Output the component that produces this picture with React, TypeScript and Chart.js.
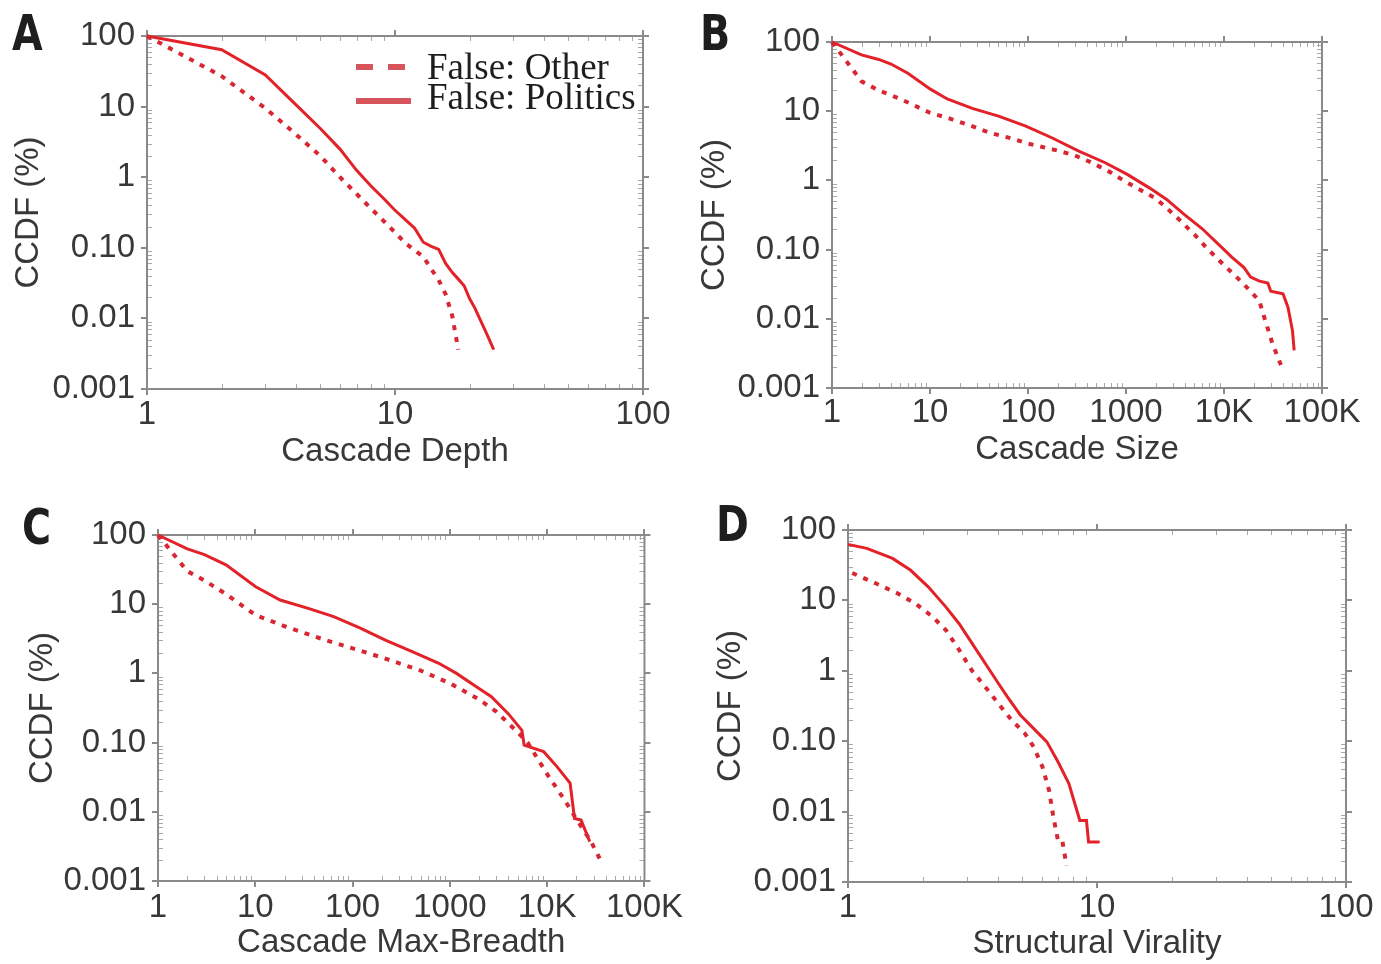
import React, { useEffect, useRef } from "react";
import { Chart, registerables } from "chart.js";

Chart.register(...registerables);

// ---------- tick labels ----------
const yTickValues = [0.001, 0.01, 0.1, 1, 10, 100];
const yTickLabels = ["0.001", "0.01", "0.10", "1", "10", "100"];
const xTickValuesShort = [1, 10, 100];
const xTickLabelsShort = ["1", "10", "100"];
const xTickValuesLong = [1, 10, 100, 1000, 10000, 100000];
const xTickLabelsLong = ["1", "10", "100", "1000", "10K", "100K"];
const seriesLabels = ["False: Other", "False: Politics"];
const yAxisTitle = "CCDF (%)";

// ---------- A: Cascade Depth ----------
const depthOtherX = [1, 2, 3, 4, 5, 6, 7, 8, 9, 10, 11, 12, 13, 14, 15, 16, 17, 18];
const depthOtherY = [100, 27, 9.5, 4, 2, 1, 0.58, 0.36, 0.24, 0.165, 0.117, 0.092, 0.075, 0.05, 0.035, 0.022, 0.011, 0.0036];
const depthPoliticsX = [1, 2, 3, 4, 5, 6, 7, 8, 9, 10, 11, 12, 13, 14, 15, 16, 17, 18, 19, 20, 21, 22, 23, 24, 25];
const depthPoliticsY = [100, 64, 28, 10.5, 4.9, 2.5, 1.25, 0.75, 0.5, 0.34, 0.25, 0.19, 0.12, 0.105, 0.095, 0.06, 0.045, 0.036, 0.029, 0.019, 0.014, 0.0098, 0.007, 0.005, 0.0036];

// ---------- B: Cascade Size ----------
const sizeOtherX = [1, 2, 3, 5, 7, 10, 16, 25, 40, 70, 100, 200, 300, 450, 700, 1000, 2000, 2600, 3600, 5000, 6600, 9000, 13700, 18700, 23000, 25500, 31000, 40000];
const sizeOtherY = [100, 27, 20, 15, 12, 9.5, 7.8, 6.3, 4.9, 4.0, 3.4, 2.7, 2.3, 1.8, 1.3, 0.95, 0.55, 0.4, 0.26, 0.165, 0.107, 0.069, 0.039, 0.025, 0.018, 0.011, 0.0045, 0.0018];
const sizePoliticsX = [1, 2, 3, 4, 6, 10, 15, 27, 50, 95, 177, 330, 614, 1030, 1730, 2600, 3950, 6000, 10000, 12000, 16000, 18700, 23000, 28000, 30000, 40000, 45000, 50000, 52000];
const sizePoliticsY = [100, 65, 56, 48, 35, 21, 15, 11, 8.5, 6.1, 4.1, 2.65, 1.8, 1.22, 0.78, 0.53, 0.32, 0.2, 0.1, 0.078, 0.055, 0.04, 0.035, 0.033, 0.025, 0.023, 0.0146, 0.0067, 0.0035];

// ---------- C: Cascade Max-Breadth ----------
const breadthOtherX = [1, 2, 3, 5, 10, 20, 50, 100, 200, 500, 1000, 2000, 3000, 5000, 6300, 10000, 15000, 20000, 28000, 36000];
const breadthOtherY = [100, 30, 22, 14, 7, 4.8, 3.1, 2.3, 1.7, 1.1, 0.72, 0.42, 0.28, 0.14, 0.1, 0.035, 0.015, 0.0078, 0.0038, 0.0019];
const breadthPoliticsX = [1, 2, 3, 5, 10, 18, 35, 64, 120, 220, 410, 770, 1170, 1760, 2670, 4000, 5500, 5800, 9200, 12600, 17200, 19100, 22300, 27400];
const breadthPoliticsY = [100, 63, 52, 37, 18, 11.5, 8.7, 6.6, 4.5, 3.0, 2.06, 1.4, 1.0, 0.68, 0.46, 0.26, 0.15, 0.092, 0.074, 0.045, 0.026, 0.008, 0.0076, 0.0037];

// ---------- D: Structural Virality ----------
const viralityOtherX = [1.04, 1.29, 1.58, 1.86, 2.18, 2.47, 2.79, 3.15, 3.56, 4.02, 4.54, 5.13, 5.57, 6.04, 6.42, 6.68, 6.97, 7.25, 7.55];
const viralityOtherY = [24.5, 17.5, 12.6, 9.1, 5.9, 3.8, 2.0, 1.0, 0.59, 0.34, 0.2, 0.129, 0.083, 0.043, 0.02, 0.0084, 0.0039, 0.0039, 0.0017];
const viralityPoliticsX = [1, 1.19, 1.51, 1.78, 2.1, 2.47, 2.79, 3.15, 3.56, 4.02, 4.36, 4.93, 5.57, 6.29, 6.97, 7.71, 8.53, 9.07, 9.25, 10.25];
const viralityPoliticsY = [62.5, 54.8, 39.5, 27, 15.6, 8.1, 4.7, 2.45, 1.27, 0.66, 0.43, 0.234, 0.151, 0.098, 0.051, 0.025, 0.0075, 0.0075, 0.0037, 0.0037];

// ---------- styles ----------
const SOLID_COLOR = "rgb(226,34,40)";
const DOTTED_COLOR = "rgb(216,38,50)";
const LEGEND_COLOR = "rgb(216,84,92)";
const TEXT_COLOR = "#383838";
const AXIS_COLOR = "#8a8a8a";
const MINOR_COLOR = "#a8a8a8";
const SANS = "'Liberation Sans', Arial, Helvetica, sans-serif";
const SERIF = "'Liberation Serif', 'Times New Roman', serif";

type PanelCfg = {
  letter: string;
  left: number;
  top: number;
  width: number;
  height: number;
  plotLeft: number;
  plotTop: number;
  plotRight: number;
  plotBottom: number;
  letterLeft: number;
  letterTop: number;
  xTitle: string;
  xTickValues: number[];
  xTickLabels: string[];
  otherX: number[];
  otherY: number[];
  politicsX: number[];
  politicsY: number[];
  yTitlePad: number;
  xTitlePad: number;
  xTickPad: number;
  legend: boolean;
};

const panels: PanelCfg[] = [
  {
    letter: "A", left: 0, top: 0, width: 690, height: 482,
    plotLeft: 147, plotTop: 36, plotRight: 643, plotBottom: 389,
    letterLeft: 12, letterTop: 8,
    xTitle: "Cascade Depth", xTickValues: xTickValuesShort, xTickLabels: xTickLabelsShort,
    otherX: depthOtherX, otherY: depthOtherY, politicsX: depthPoliticsX, politicsY: depthPoliticsY,
    yTitlePad: 9, xTitlePad: 10, xTickPad: 6, legend: true,
  },
  {
    letter: "B", left: 690, top: 0, width: 691, height: 482,
    plotLeft: 142, plotTop: 42, plotRight: 632, plotBottom: 388,
    letterLeft: 10, letterTop: 8,
    xTitle: "Cascade Size", xTickValues: xTickValuesLong, xTickLabels: xTickLabelsLong,
    otherX: sizeOtherX, otherY: sizeOtherY, politicsX: sizePoliticsX, politicsY: sizePoliticsY,
    yTitlePad: 5, xTitlePad: 12, xTickPad: 5, legend: false,
  },
  {
    letter: "C", left: 0, top: 482, width: 690, height: 482,
    plotLeft: 158, plotTop: 53, plotRight: 647, plotBottom: 399,
    letterLeft: 22, letterTop: 20,
    xTitle: "Cascade Max-Breadth", xTickValues: xTickValuesLong, xTickLabels: xTickLabelsLong,
    otherX: breadthOtherX, otherY: breadthOtherY, politicsX: breadthPoliticsX, politicsY: breadthPoliticsY,
    yTitlePad: 23, xTitlePad: 1, xTickPad: 7, legend: false,
  },
  {
    letter: "D", left: 690, top: 482, width: 691, height: 482,
    plotLeft: 158, plotTop: 48, plotRight: 656, plotBottom: 400,
    letterLeft: 26, letterTop: 17,
    xTitle: "Structural Virality", xTickValues: xTickValuesShort, xTickLabels: xTickLabelsShort,
    otherX: viralityOtherX, otherY: viralityOtherY, politicsX: viralityPoliticsX, politicsY: viralityPoliticsY,
    yTitlePad: 21, xTitlePad: 0, xTickPad: 6, legend: false,
  },
];

function labelFor(values: number[], labels: string[], v: number): string {
  for (let i = 0; i < values.length; i++) {
    if (Math.abs(Math.log10(v) - Math.log10(values[i])) < 1e-6) return labels[i];
  }
  return "";
}

function decadeMinors(min: number, max: number): number[] {
  const out: number[] = [];
  for (let e = Math.round(Math.log10(min)); e < Math.round(Math.log10(max)); e++) {
    const base = Math.pow(10, e);
    for (let k = 2; k <= 9; k++) out.push(k * base);
  }
  return out;
}

function makeFramePlugin(cfg: PanelCfg) {
  return {
    id: "frameTicks" + cfg.letter,
    beforeDatasetsDraw(chart: any) {
      const { ctx, chartArea } = chart;
      const { left, right, top, bottom } = chartArea;
      const xs = chart.scales.x;
      const ys = chart.scales.y;
      ctx.save();
      // minor ticks (inward)
      ctx.strokeStyle = MINOR_COLOR;
      ctx.lineWidth = 1;
      ctx.beginPath();
      for (const v of decadeMinors(xs.min, xs.max)) {
        const px = Math.round(xs.getPixelForValue(v)) + 0.5;
        ctx.moveTo(px, bottom);
        ctx.lineTo(px, bottom - 5);
        ctx.moveTo(px, top);
        ctx.lineTo(px, top + 5);
      }
      for (const v of decadeMinors(ys.min, ys.max)) {
        const py = Math.round(ys.getPixelForValue(v)) + 0.5;
        ctx.moveTo(left, py);
        ctx.lineTo(left + 5, py);
        ctx.moveTo(right, py);
        ctx.lineTo(right - 5, py);
      }
      ctx.stroke();
      // major ticks (outward)
      ctx.strokeStyle = AXIS_COLOR;
      ctx.lineWidth = 2;
      ctx.beginPath();
      for (const v of cfg.xTickValues) {
        const px = Math.round(xs.getPixelForValue(v));
        ctx.moveTo(px, bottom);
        ctx.lineTo(px, bottom + 6);
        ctx.moveTo(px, top);
        ctx.lineTo(px, top - 6);
      }
      for (const v of yTickValues) {
        const py = Math.round(ys.getPixelForValue(v));
        ctx.moveTo(left, py);
        ctx.lineTo(left - 6, py);
        ctx.moveTo(right, py);
        ctx.lineTo(right + 6, py);
      }
      ctx.stroke();
      // frame
      ctx.strokeRect(left, top, right - left, bottom - top);
      ctx.restore();
    },
    afterDraw(chart: any) {
      if (!cfg.legend) return;
      const { ctx } = chart;
      ctx.save();
      // legend markers
      ctx.strokeStyle = LEGEND_COLOR;
      ctx.lineWidth = 6;
      ctx.lineCap = "butt";
      ctx.beginPath();
      ctx.moveTo(356, 67);
      ctx.lineTo(373, 67);
      ctx.moveTo(388, 67);
      ctx.lineTo(405, 67);
      ctx.stroke();
      ctx.beginPath();
      ctx.moveTo(356, 101);
      ctx.lineTo(411, 101);
      ctx.stroke();
      // legend text
      ctx.fillStyle = "#1e1e1e";
      ctx.font = "37px " + SERIF;
      ctx.textBaseline = "alphabetic";
      ctx.textAlign = "left";
      ctx.fillText(chart.data.datasets[0].label, 427, 79);
      ctx.fillText(chart.data.datasets[1].label, 427, 109);
      ctx.restore();
    },
  };
}

function Panel({ cfg }: { cfg: PanelCfg }) {
  const ref = useRef<HTMLCanvasElement>(null);

  useEffect(() => {
    const canvas = ref.current;
    if (!canvas) return;
    const tickFont = { family: SANS, size: 33, lineHeight: 1.2 };
    const chart = new Chart(canvas, {
      type: "scatter",
      data: {
        datasets: [
          {
            label: seriesLabels[0],
            data: cfg.otherX.map((x, i) => ({ x, y: cfg.otherY[i] })),
            showLine: true,
            borderColor: DOTTED_COLOR,
            backgroundColor: DOTTED_COLOR,
            borderWidth: 4,
            borderDash: [5, 7],
            borderCapStyle: "butt",
            pointRadius: 0,
            tension: 0,
            clip: false as any,
          },
          {
            label: seriesLabels[1],
            data: cfg.politicsX.map((x, i) => ({ x, y: cfg.politicsY[i] })),
            showLine: true,
            borderColor: SOLID_COLOR,
            backgroundColor: SOLID_COLOR,
            borderWidth: 3,
            pointRadius: 0,
            tension: 0,
            clip: false as any,
          },
        ],
      },
      options: {
        responsive: false,
        animation: false,
        devicePixelRatio: 1,
        events: [],
        layout: {
          padding: {
            left: 0,
            top: cfg.plotTop,
            right: cfg.width - cfg.plotRight,
            bottom: 0,
          },
        },
        plugins: {
          legend: { display: false },
          tooltip: { enabled: false },
        },
        scales: {
          x: {
            type: "logarithmic",
            position: "bottom",
            min: cfg.xTickValues[0],
            max: cfg.xTickValues[cfg.xTickValues.length - 1],
            grid: { display: false, drawTicks: false },
            border: { display: false },
            afterBuildTicks: (scale: any) => {
              scale.ticks = cfg.xTickValues.map((v) => ({ value: v }));
            },
            afterFit: (scale: any) => {
              scale.height = cfg.height - cfg.plotBottom;
            },
            ticks: {
              autoSkip: false,
              maxRotation: 0,
              minRotation: 0,
              padding: cfg.xTickPad,
              color: TEXT_COLOR,
              font: tickFont,
              callback: (v: any) => labelFor(cfg.xTickValues, cfg.xTickLabels, Number(v)),
            },
            title: {
              display: true,
              text: cfg.xTitle,
              color: TEXT_COLOR,
              font: tickFont,
              padding: { top: 0, bottom: cfg.xTitlePad },
            },
          },
          y: {
            type: "logarithmic",
            position: "left",
            min: 0.001,
            max: 100,
            grid: { display: false, drawTicks: false },
            border: { display: false },
            afterBuildTicks: (scale: any) => {
              scale.ticks = yTickValues.map((v) => ({ value: v }));
            },
            afterFit: (scale: any) => {
              scale.width = cfg.plotLeft;
            },
            ticks: {
              autoSkip: false,
              padding: 12,
              color: TEXT_COLOR,
              font: tickFont,
              callback: (v: any) => labelFor(yTickValues, yTickLabels, Number(v)),
            },
            title: {
              display: true,
              text: yAxisTitle,
              color: TEXT_COLOR,
              font: tickFont,
              padding: { top: cfg.yTitlePad, bottom: 0 },
            },
          },
        },
      } as any,
      plugins: [makeFramePlugin(cfg)],
    });
    return () => chart.destroy();
  }, [cfg]);

  return (
    <div
      style={{
        position: "absolute",
        left: cfg.left,
        top: cfg.top,
        width: cfg.width,
        height: cfg.height,
      }}
    >
      <canvas
        ref={ref}
        width={cfg.width}
        height={cfg.height}
        style={{ display: "block", width: cfg.width, height: cfg.height }}
      />
      <div
        style={{
          position: "absolute",
          left: cfg.letterLeft,
          top: cfg.letterTop,
          fontFamily: "'Liberation Sans Narrow', 'DejaVu Sans Condensed', 'Liberation Sans', sans-serif",
          fontWeight: 700,
          fontSize: 50,
          lineHeight: "50px",
          color: "#1e1e1e",
          transform: "scaleX(0.88)",
          transformOrigin: "left top",
        }}
      >
        {cfg.letter}
      </div>
    </div>
  );
}

export default function App() {
  return (
    <div
      style={{
        position: "absolute",
        left: 0,
        top: 0,
        width: 1381,
        height: 964,
        background: "#ffffff",
        overflow: "hidden",
      }}
    >
      {panels.map((p) => (
        <Panel key={p.letter} cfg={p} />
      ))}
    </div>
  );
}
